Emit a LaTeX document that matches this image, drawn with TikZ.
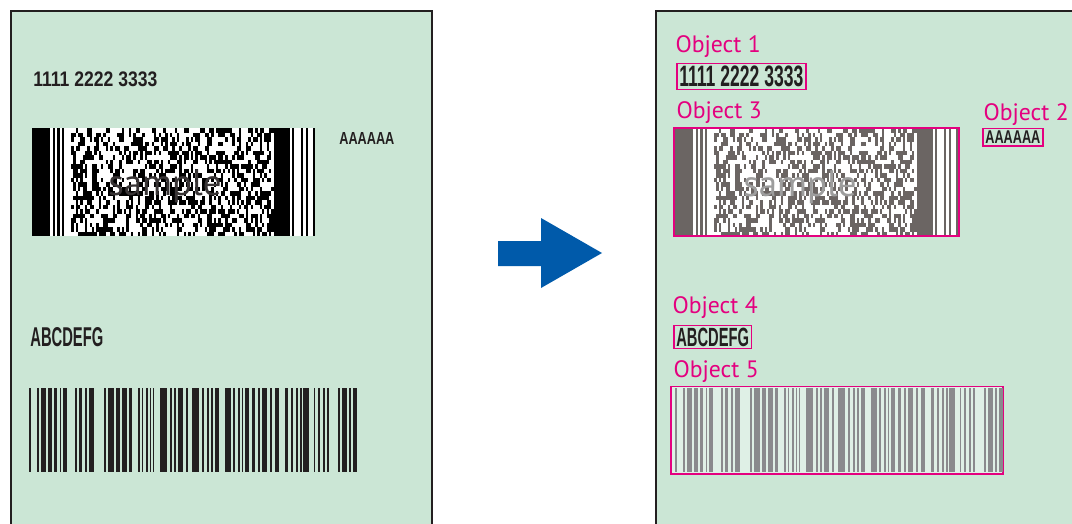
\documentclass[tikz,border=0pt]{standalone}
\usepackage{fontspec}
\usepackage{graphicx}
\setmainfont{PT Sans}
\newfontfamily\codefont{Liberation Sans}
\usetikzlibrary{fit}
\definecolor{sheet}{HTML}{CBE6D5}
\definecolor{ink}{HTML}{231F20}
\definecolor{objpink}{HTML}{E4007F}
\definecolor{flowblue}{HTML}{005AAA}
\definecolor{scangrey}{HTML}{6B6563}
\definecolor{bargrey}{HTML}{8A8A8D}
\definecolor{barbg}{HTML}{DFF0E6}
\definecolor{stampgrey}{HTML}{9D9D9D}
\definecolor{stampdark}{HTML}{383435}
\newlength{\pxu}
\setlength{\pxu}{0.02cm}
\newcommand{\codetxt}[3]{\resizebox{#1}{#2}{\codefont\bfseries #3}}
% stacked 2D symbol: #1 left edge, #2 module colour
\newcommand{\pdfsym}[2]{%
  \fill[white] (#1,128) rectangle ++(283,108);
  \foreach \a/\w in {0/8,9/1,11/1,13/1,105/7,113/1,117/1,119/1,122/1}
    \fill[#2] ({#1+\a*2.3},128) rectangle ++({\w*2.3},108);
  \pgfmathsetseed{417}
  \foreach \row in {0,...,23}
    \foreach \col in {0,...,87}{
      \pgfmathrandominteger{\bit}{0}{99}
      \ifnum\bit<46
        \fill[#2] ({#1+(17+\col)*2.3},{128+\row*4.5}) rectangle ++(2.4,4.6);
      \fi}}
% linear symbol: #1 shift, #2 bar colour
\newcommand{\linbars}[2]{%
  \foreach \s/\e in {29/31,37/39,41/46.3,48.3/52.3,54.3/57,59.7/61,63/67,
      75/77,79/81.7,85/87,89/94.3,104.3/106.3,108.3/113.7,115.7/120.3,
      121.7/127,129/132.3,138.3/139.7,141.7/143,145.7/147.7,149.7/151,
      153/154.3,160.3/167,169.7/172.3,173.7/175.7,178.3/183,185.7/188.3,
      191.7/199.3,202/204,206.7/208.7,210.7/212.7,215.3/218.7,224.7/230.7,
      233.3/235.3,238/240,242/243.3,245.3/248.7,252/255.3,258/260,262/267.3,
      270/272,274.7/278.7,285.3/288,290.7/292.7,296/298,300/302,303.3/308.7,
      314/315.3,318/320,322.7/324.7,327.3/329.3,338/340,342/346.7,
      349.3/350.7,353.3/356.7}
    \fill[#2] ({#1+\s},388) rectangle ({#1+\e},472);}
\tikzset{
  sheetbox/.style={draw=ink, line width=1.1pt, fill=sheet},
  codetext/.style={inner sep=0pt, anchor=south west, text=ink},
  objbox/.style={draw=objpink, line width=0.9pt, inner sep=2\pxu},
  objlabel/.style={inner sep=0pt, anchor=base west, text=objpink,
                   font=\fontsize{13.5}{14}\selectfont},
  stamp/.style={inner sep=0pt, anchor=base, font=\fontsize{21}{22}\selectfont}}

\begin{document}
\begin{tikzpicture}[x=0.02cm, y=-0.02cm]
  \useasboundingbox (0,0) rectangle (1072,524);
  \clip (0,0) rectangle (1072,524);
  % the two sheets
  \draw[sheetbox] (11,11) rectangle (432,545);
  \draw[sheetbox] (656,11) rectangle (1095,545);
  % original sheet
  \node[codetext] (numL) at (33,87.3) {\codetxt{124\pxu}{14.7\pxu}{1111 2222 3333}};
  \node[codetext] (aaaL) at (339,145) {\codetxt{55\pxu}{12\pxu}{AAAAAA}};
  \pdfsym{32}{black}
  \node[stamp, text=stampdark] (smpL) at (165,195) {sample};
  \node[codetext] (abcL) at (30,347) {\codetxt{73\pxu}{19\pxu}{ABCDEFG}};
  \linbars{0}{ink}
  % the arrow
  \fill[flowblue] (498,241) -- (541,241) -- (541,218) -- (602,253)
    -- (541,288) -- (541,266) -- (498,266) -- cycle;
  % detected objects
  \node[codetext] (numR) at (679,87.3) {\codetxt{124\pxu}{20.6\pxu}{1111 2222 3333}};
  \node[codetext] (aaaR) at (985,144) {\codetxt{55\pxu}{12.7\pxu}{AAAAAA}};
  \pdfsym{675}{scangrey}
  \node[stamp, text=stampgrey] (smpR) at (800,196.5) {sample};
  \node[codetext] (abcR) at (676,346.7) {\codetxt{72.7\pxu}{18.4\pxu}{ABCDEFG}};
  \coordinate (barNW) at (671,386.5);
  \coordinate (barSE) at (1003,474);
  \node[objbox, inner sep=0pt, fill=barbg, fit=(barNW)(barSE)] (ob5) {};
  \linbars{646}{bargrey}
  \coordinate (pdfNW) at (674,128);
  \coordinate (pdfSE) at (959,236);
  \node[objbox, inner sep=0pt, fit=(pdfNW)(pdfSE)] (ob3) {};
  \node[objbox, fit=(numR)] (ob1) {};
  \node[objbox, fit=(aaaR)] (ob2) {};
  \node[objbox, fit=(abcR)] (ob4) {};
  \node[objlabel] (lb1) at ([shift={(-1,-10)}]ob1.north west) {Object 1};
  \node[objlabel] (lb2) at ([shift={(1,-7)}]ob2.north west) {Object 2};
  \node[objlabel] (lb3) at ([shift={(3,-9)}]ob3.north west) {Object 3};
  \node[objlabel] (lb4) at ([shift={(-1,-11)}]ob4.north west) {Object 4};
  \node[objlabel] (lb5) at ([shift={(3,-8)}]ob5.north west) {Object 5};
\end{tikzpicture}
\end{document}
